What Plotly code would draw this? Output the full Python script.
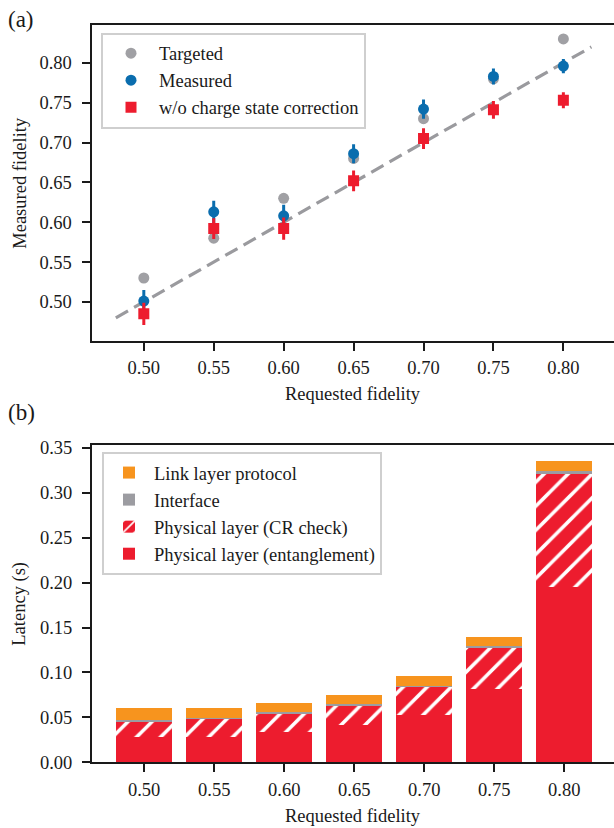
import plotly.graph_objects as go

# ---------------- data: panel (a) ----------------
requested = [0.50, 0.55, 0.60, 0.65, 0.70, 0.75, 0.80]
targeted = [0.530, 0.580, 0.630, 0.680, 0.730, 0.780, 0.830]
measured = [0.501, 0.613, 0.608, 0.686, 0.742, 0.783, 0.796]
measured_err = [0.014, 0.014, 0.014, 0.012, 0.012, 0.010, 0.009]
no_corr = [0.485, 0.592, 0.592, 0.652, 0.705, 0.741, 0.753]
no_corr_err = [0.014, 0.013, 0.014, 0.013, 0.013, 0.011, 0.010]
diag_x = [0.48, 0.82]
diag_y = [0.48, 0.82]

# ---------------- data: panel (b) ----------------
fid_labels = ["0.50", "0.55", "0.60", "0.65", "0.70", "0.75", "0.80"]
phys_ent = [0.0286, 0.0286, 0.0334, 0.0417, 0.0524, 0.0821, 0.1955]
phys_cr = [0.0169, 0.0196, 0.0211, 0.0215, 0.0316, 0.0456, 0.1248]
interface = [0.0012, 0.0012, 0.0012, 0.0012, 0.0012, 0.0012, 0.0040]
link_layer = [0.0143, 0.0108, 0.0108, 0.0107, 0.0110, 0.0109, 0.0109]

RED = "#ED1C2E"
ORANGE = "#F7941E"
IFACE = "#9C9CA1"
BLUE = "#0A6DAE"
TGREY = "#A0A0A4"
FONT = "Liberation Serif, Times New Roman, serif"
FS = 18.5

W, H = 614, 828


def py(p):
    """paper y fraction for a target pixel row (compensates the viewer's vertical fit)."""
    return 1 - ((p - 7.4) / 0.9785) / H


fig = go.Figure()

# panel (a)
fig.add_trace(go.Scatter(x=diag_x, y=diag_y, mode="lines", showlegend=False,
                         line=dict(color="#9A9A9E", width=3.2, dash="14px,7px"),
                         xaxis="x", yaxis="y", hoverinfo="skip"))
fig.add_trace(go.Scatter(x=requested, y=targeted, mode="markers", name="Targeted",
                         marker=dict(color=TGREY, size=11, symbol="circle"),
                         xaxis="x", yaxis="y", legend="legend"))
fig.add_trace(go.Scatter(x=requested, y=measured, mode="markers", name="Measured",
                         marker=dict(color=BLUE, size=11, symbol="circle"),
                         error_y=dict(type="data", array=measured_err, color=BLUE,
                                      thickness=3, width=0),
                         xaxis="x", yaxis="y", legend="legend"))
fig.add_trace(go.Scatter(x=requested, y=no_corr, mode="markers",
                         name="w/o charge state correction",
                         marker=dict(color=RED, size=11, symbol="square"),
                         error_y=dict(type="data", array=no_corr_err, color=RED,
                                      thickness=3, width=0),
                         xaxis="x", yaxis="y", legend="legend"))

# panel (b)
fig.add_trace(go.Bar(x=fid_labels, y=phys_ent, name="Physical layer (entanglement)",
                     marker=dict(color=RED, line=dict(width=0)),
                     xaxis="x2", yaxis="y2", legend="legend2", width=0.8))
fig.add_trace(go.Bar(x=fid_labels, y=phys_cr, name="Physical layer (CR check)",
                     marker=dict(color=RED, line=dict(width=0),
                                 pattern=dict(shape="/", fgcolor="white", bgcolor=RED,
                                              size=17, solidity=0.21, fillmode="replace")),
                     xaxis="x2", yaxis="y2", legend="legend2", width=0.8))
fig.add_trace(go.Bar(x=fid_labels, y=interface, name="Interface",
                     marker=dict(color=IFACE, line=dict(width=0)),
                     xaxis="x2", yaxis="y2", legend="legend2", width=0.8))
fig.add_trace(go.Bar(x=fid_labels, y=link_layer, name="Link layer protocol",
                     marker=dict(color=ORANGE, line=dict(width=0)),
                     xaxis="x2", yaxis="y2", legend="legend2", width=0.8))

axis_common = dict(showline=True, linecolor="#1a1a1a", linewidth=2,
                   ticks="outside", ticklen=8, tickwidth=1.5, tickcolor="#1a1a1a",
                   showgrid=False, zeroline=False,
                   tickfont=dict(family=FONT, size=FS, color="#1a1a1a"))

fig.update_layout(
    width=W, height=H,
    margin=dict(l=0, r=0, t=0, b=0),
    paper_bgcolor="white", plot_bgcolor="white",
    barmode="stack", bargap=0.2,
    font=dict(family=FONT, size=FS, color="#1a1a1a"),
    xaxis=dict(**axis_common, domain=[91.5 / W, 1.0], range=[0.4626, 0.8362],
               tickvals=requested, tickformat=".2f", anchor="y", mirror=True,
               ticklabelstandoff=1),
    yaxis=dict(**axis_common, domain=[py(341), py(25)], range=[0.451, 0.848],
               tickvals=[0.50, 0.55, 0.60, 0.65, 0.70, 0.75, 0.80], tickformat=".2f",
               anchor="x", ticklabelstandoff=6),
    xaxis2=dict(**axis_common, domain=[92 / W, 1.0], range=[-0.745, 6.71],
                type="category", anchor="y2", mirror=True, ticklabelstandoff=1),
    yaxis2=dict(**axis_common, domain=[py(762), py(445)], range=[0, 0.353],
                tickvals=[0.0, 0.05, 0.10, 0.15, 0.20, 0.25, 0.30, 0.35], tickformat=".2f",
                anchor="x2", ticklabelstandoff=6),
    legend=dict(x=101 / W, y=py(33), xanchor="left", yanchor="top",
                bgcolor="rgba(255,255,255,0.85)", bordercolor="#CFCFCF", borderwidth=2,
                font=dict(family=FONT, size=FS, color="#1a1a1a"), itemwidth=46,
                traceorder="normal"),
    legend2=dict(x=102 / W, y=py(452), xanchor="left", yanchor="top",
                 bgcolor="rgba(255,255,255,0.85)", bordercolor="#CFCFCF", borderwidth=2,
                 font=dict(family=FONT, size=FS, color="#1a1a1a"), itemwidth=40,
                 traceorder="reversed"),
    annotations=[
        dict(text="(a)", x=6 / W, y=py(20), xref="paper", yref="paper",
             xanchor="left", yanchor="middle", showarrow=False,
             font=dict(family=FONT, size=23, color="#1a1a1a")),
        dict(text="(b)", x=6 / W, y=py(412), xref="paper", yref="paper",
             xanchor="left", yanchor="middle", showarrow=False,
             font=dict(family=FONT, size=23, color="#1a1a1a")),
        dict(text="Measured fidelity", x=20 / W, y=py(183), xref="paper", yref="paper",
             xanchor="center", yanchor="middle", showarrow=False, textangle=-90,
             font=dict(family=FONT, size=FS, color="#1a1a1a")),
        dict(text="Latency (s)", x=20 / W, y=py(603.5), xref="paper", yref="paper",
             xanchor="center", yanchor="middle", showarrow=False, textangle=-90,
             font=dict(family=FONT, size=FS, color="#1a1a1a")),
        dict(text="Requested fidelity", x=(91.5 + 614) / 2 / W, y=py(394),
             xref="paper", yref="paper", xanchor="center", yanchor="middle",
             showarrow=False, font=dict(family=FONT, size=FS, color="#1a1a1a")),
        dict(text="Requested fidelity", x=(92 + 614) / 2 / W, y=py(816),
             xref="paper", yref="paper", xanchor="center", yanchor="middle",
             showarrow=False, font=dict(family=FONT, size=FS, color="#1a1a1a")),
    ],
)

fig.write_html(
    "out.html",
    config={"displayModeBar": False},
    post_script=(
        "document.documentElement.style.margin='0px';"
        "document.body.style.margin='0px';"
        "document.body.style.padding='0px';"
        "document.body.style.overflow='hidden';"
        "var gd=document.getElementById('{plot_id}');"
        "gd.style.position='fixed';gd.style.left='0px';gd.style.top='0px';"
    ),
)
